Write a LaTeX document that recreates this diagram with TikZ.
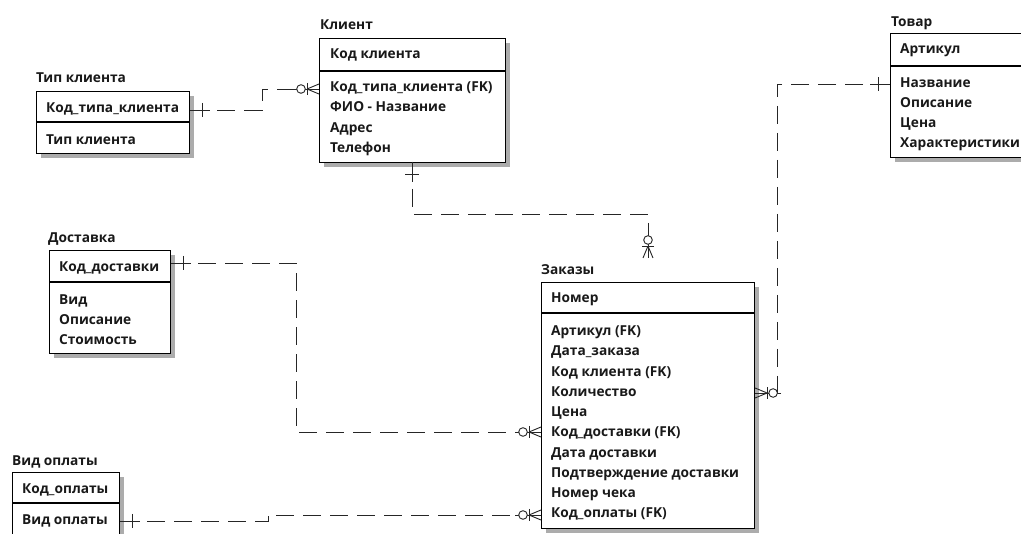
\documentclass[tikz,border=0pt]{standalone}
\usepackage{fontspec}
\newfontfamily\erfont{Open Sans}
\usetikzlibrary{shadows}
\tikzset{
  ent/.style={draw=black, line width=1.1pt, fill=white, anchor=north west, inner sep=0pt,
    drop shadow={shadow xshift=4pt, shadow yshift=-4pt, fill=gray!65, opacity=1}},
  divl/.style={draw=black, line width=1.1pt},
  lbl/.style={anchor=base west, inner sep=0pt, text=black!90, font=\erfont\bfseries\fontsize{13.7}{15}\selectfont},
  rel/.style={draw=black!85, line width=0.9pt, dash pattern=on 18pt off 9pt},
  relsolid/.style={draw=black!85, line width=0.9pt, solid},
  zm/.pic={
    \draw[relsolid] (-26,0) -- (0,0);
    \draw[relsolid, fill=white] (-18,0) circle[radius=4.3];
    \draw[relsolid] (-12,-6) -- (-12,6);
    \draw[relsolid] (-12,0) -- (0,-5) (-12,0) -- (0,5);
  },
  one/.pic={
    \draw[relsolid] (0,0) -- (20,0);
    \draw[relsolid] (12,-7) -- (12,7);
  }
}
\begin{document}
\begin{tikzpicture}[x=1pt,y=-1pt]
\useasboundingbox (0,0) rectangle (1021,534);
\fill[white] (0,0) rectangle (1021,534);

% Тип клиента
\node[lbl] (tipT) at (36,83) {Тип клиента};
\node[ent, minimum width=153pt, minimum height=62pt] (tip) at (36,91) {};
\draw[divl] (tip.west |- 0,122) -- (tip.east |- 0,122);
\node[lbl] (tip1) at (46,113) {Код\_типа\_клиента};
\node[lbl] (tip2) at (46,145) {Тип клиента};

% Клиент
\node[lbl] (klT) at (320,30) {Клиент};
\node[ent, minimum width=186pt, minimum height=124pt] (kl) at (319,38) {};
\draw[divl] (kl.west |- 0,71) -- (kl.east |- 0,71);
\node[lbl] (kl1) at (330,59) {Код клиента};
\node[lbl] (kl2) at (330,92) {Код\_типа\_клиента (FK)};
\node[lbl] (kl3) at (330,112) {ФИО - Название};
\node[lbl] (kl4) at (330,133) {Адрес};
\node[lbl] (kl5) at (330,153) {Телефон};

% Товар
\node[lbl] (tvT) at (891,27) {Товар};
\node[ent, minimum width=160pt, minimum height=124pt] (tv) at (890,33) {};
\draw[divl] (tv.west |- 0,66) -- (tv.east |- 0,66);
\node[lbl] (tv1) at (900,54) {Артикул};
\node[lbl] (tv2) at (900,88) {Название};
\node[lbl] (tv3) at (900,108) {Описание};
\node[lbl] (tv4) at (900,128) {Цена};
\node[lbl] (tv5) at (900,148) {Характеристики};

% Доставка
\node[lbl] (dsT) at (48,243) {Доставка};
\node[ent, minimum width=121pt, minimum height=103pt] (ds) at (49,250) {};
\draw[divl] (ds.west |- 0,282) -- (ds.east |- 0,282);
\node[lbl] (ds1) at (59,272) {Код\_доставки};
\node[lbl] (ds2) at (59,305) {Вид};
\node[lbl] (ds3) at (59,325) {Описание};
\node[lbl] (ds4) at (59,345) {Стоимость};

% Заказы
\node[lbl] (zkT) at (541,275) {Заказы};
\node[ent, minimum width=213pt, minimum height=246pt] (zk) at (541,282) {};
\draw[divl] (zk.west |- 0,313) -- (zk.east |- 0,313);
\node[lbl] (zk0) at (551,303) {Номер};
\node[lbl] (zk1) at (551,336) {Артикул (FK)};
\node[lbl] (zk2) at (551,356) {Дата\_заказа};
\node[lbl] (zk3) at (551,376.5) {Код клиента (FK)};
\node[lbl] (zk4) at (551,396.5) {Количество};
\node[lbl] (zk5) at (551,417) {Цена};
\node[lbl] (zk6) at (551,437) {Код\_доставки (FK)};
\node[lbl] (zk7) at (551,457.5) {Дата доставки};
\node[lbl] (zk8) at (551,477.5) {Подтверждение доставки};
\node[lbl] (zk9) at (551,498) {Номер чека};
\node[lbl] (zk10) at (551,518) {Код\_оплаты (FK)};

% Вид оплаты
\node[lbl] (voT) at (12,466) {Вид оплаты};
\node[ent, minimum width=107pt, minimum height=80pt] (vo) at (12,472) {};
\draw[divl] (vo.west |- 0,503) -- (vo.east |- 0,503);
\node[lbl] (vo1) at (22,494) {Код\_оплаты};
\node[lbl] (vo2) at (22,525) {Вид оплаты};

% connector end points
\coordinate (c1a) at (tip.east |- 0,110);
\coordinate (c1b) at (kl.west |- 0,89);
\coordinate (c2a) at (412,162);
\coordinate (c2b) at (648,258);
\coordinate (c3a) at (tv.west |- 0,84);
\coordinate (c3b) at (zk.east |- 0,393);
\coordinate (c4a) at (ds.east |- 0,263);
\coordinate (c4b) at (zk.west |- 0,432);
\coordinate (c5a) at (vo.east |- 0,521);
\coordinate (c5b) at (zk.west |- 0,515);

% connectors
\draw[rel] (c1a) -- (262,110) -- (262,89) -- (c1b);
\pic at (c1a) {one};
\pic at (c1b) {zm};

\draw[rel] (c2a) -- (412,214) -- (648,214) -- (c2b);
\pic[rotate=-90] at (c2a) {one};
\pic[rotate=-90] at (c2b) {zm};

\draw[rel] (c3a) -- (777,84) -- (777,393) -- (c3b);
\pic[rotate=180] at (c3a) {one};
\pic[rotate=180] at (c3b) {zm};

\draw[rel] (c4a) -- (296,263) -- (296,432) -- (c4b);
\pic at (c4a) {one};
\pic at (c4b) {zm};

\draw[rel] (c5a) -- (268,521) -- (268,515) -- (c5b);
\pic at (c5a) {one};
\pic at (c5b) {zm};
\end{tikzpicture}
\end{document}
